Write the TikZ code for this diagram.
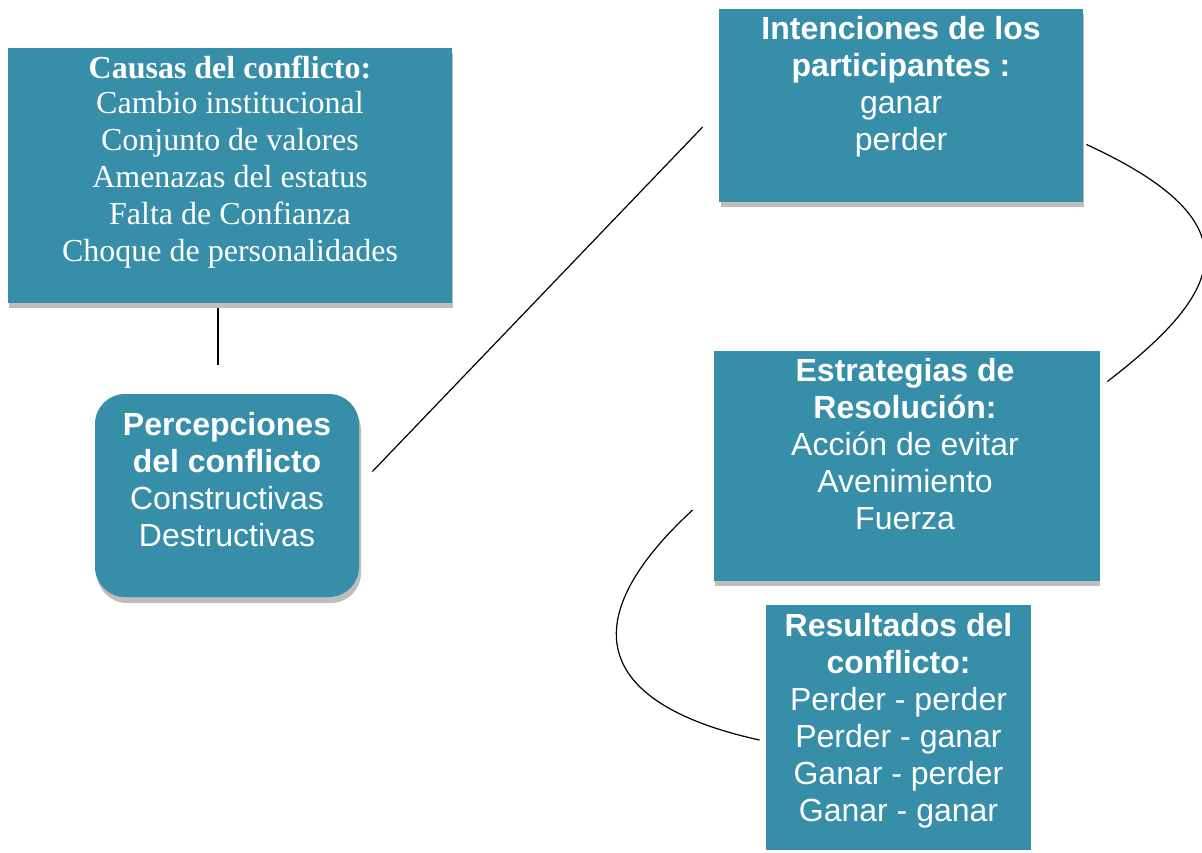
\documentclass[tikz,border=0pt]{standalone}
\usepackage{fontspec}
\setmainfont{Liberation Serif}
\setsansfont{Liberation Sans}
\usetikzlibrary{calc}
\definecolor{teal1}{RGB}{55,142,168}
\definecolor{shade1}{RGB}{190,190,190}
\tikzset{
  box/.style={fill=teal1, draw=none, inner sep=0pt},
  boxtxt/.style={text=white, align=center, inner sep=0pt, anchor=north, font=\fontsize{16}{18.5}\selectfont},
  sbox/.style={boxtxt, font=\sffamily\fontsize{16}{18.5}\selectfont},
  conn/.style={draw=black, line width=0.6pt}
}
\begin{document}
\begin{tikzpicture}[x=0.5pt,y=-0.5pt]
\useasboundingbox (0,0) rectangle (1202,852);
% shadows
\fill[shade1] (9,53) rectangle (453,308);
\fill[shade1, rounded corners=15pt] (97,400) rectangle (361,603);
\fill[shade1] (721,14) rectangle (1084,207);
\fill[shade1] (715,356) rectangle (1100,586);
% boxes
\node[box, minimum width=222pt, minimum height=127.5pt] (causas) at (230,175.5) {};
\node[box, rounded corners=15pt, minimum width=132pt, minimum height=101.5pt] (percep) at (227,495.5) {};
\node[box, minimum width=182pt, minimum height=96.5pt] (inten) at (901,105.5) {};
\node[box, minimum width=193pt, minimum height=115pt] (estrat) at (907,465.5) {};
\node[box, minimum width=132.5pt, minimum height=122.5pt] (result) at (898.5,727.5) {};
% texts
\node[boxtxt] (causasT) at (230,56) {\textbf{Causas del conflicto:}\\[-1.2pt]Cambio institucional\\Conjunto de valores\\Amenazas del estatus\\Falta de Confianza\\Choque de personalidades};
\node[sbox] (percepT) at (227,412) {\textbf{Percepciones}\\\textbf{del conflicto}\\Constructivas\\Destructivas};
\node[sbox] (intenT) at (901,16) {\textbf{Intenciones de los}\\\textbf{participantes :}\\ganar\\perder};
\node[sbox] (estratT) at (905,358) {\textbf{Estrategias de}\\\textbf{Resolución:}\\Acción de evitar\\Avenimiento\\Fuerza};
\node[sbox] (resultT) at (898.5,613) {\textbf{Resultados del}\\\textbf{conflicto:}\\Perder - perder\\Perder - ganar\\Ganar - perder\\Ganar - ganar};
% connectors
\draw[conn] ($(causas.south)+(-12,5)$) -- ($(percep.north)+(-9,-29)$);
\draw[conn] ($(percep.east)+(13,-24)$) -- ($(inten.west)+(-16,21.5)$);
\draw[conn] ($(inten.east)+(3,39)$) .. controls (1260,224) and (1222,293) .. ($(estrat.east)+(7,-84)$);
\draw[conn] ($(estrat.west)+(-21,44.5)$) .. controls (568,625) and (600,705) .. ($(result.west)+(-6,12.5)$);
\end{tikzpicture}
\end{document}
